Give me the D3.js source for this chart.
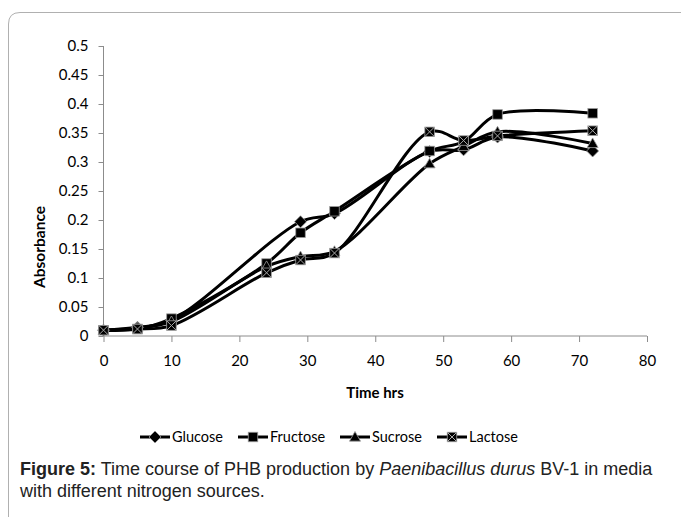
<!DOCTYPE html>
<html><head><meta charset="utf-8">
<script src="https://cdn.jsdelivr.net/npm/d3@7"></script>
<style>body{margin:0;background:#fff;} svg{display:block;}</style>
</head><body>
<svg id="c" width="681" height="517"></svg>
<script>
const times = [0, 5, 10, 24, 29, 34, 48, 53, 58, 72];
const glucose  = [0.010, 0.015, 0.027, null, 0.197, 0.211, 0.318, 0.321, 0.343, 0.319];
const fructose = [0.010, 0.012, 0.030, 0.125, 0.178, 0.215, 0.319, 0.335, 0.382, 0.384];
const sucrose  = [0.010, 0.014, 0.025, 0.120, 0.137, 0.146, 0.297, 0.327, 0.352, 0.332];
const lactose  = [0.010, 0.012, 0.018, 0.109, 0.131, 0.143, 0.352, 0.337, 0.345, 0.354];
const seriesNames = ["Glucose", "Fructose", "Sucrose", "Lactose"];
const seriesMarkers = ["diamond", "square", "triangle", "xsquare"];
const xTicks = [0, 10, 20, 30, 40, 50, 60, 70, 80];
const yTicks = [0, 0.05, 0.1, 0.15, 0.2, 0.25, 0.3, 0.35, 0.4, 0.45, 0.5];
const yTickLabels = ["0", "0.05", "0.1", "0.15", "0.2", "0.25", "0.3", "0.35", "0.4", "0.45", "0.5"];

const svg = d3.select("#c");
// outer frame
svg.append("path").attr("d", "M8.5,517 L8.5,24 Q8.5,12.5 20,12.5 L681,12.5")
  .attr("fill", "none").attr("stroke", "#b0b0b0").attr("stroke-width", 1);

const x = d3.scaleLinear().domain([0, 80]).range([103.5, 647]);
const y = d3.scaleLinear().domain([0, 0.5]).range([336, 46]);
const axisColor = "#8c8c8c";
const tickFont = "Lato, 'Open Sans', sans-serif";

// x axis
const gx = svg.append("g").attr("transform", "translate(0,336)")
  .call(d3.axisBottom(x).tickValues(xTicks).tickSize(6).tickPadding(13).tickFormat(d3.format("d")));
gx.select(".domain").attr("stroke", axisColor).attr("d", `M${x(0)},0H${x(80)}`);
gx.selectAll(".tick line").attr("stroke", axisColor);
gx.selectAll("text").attr("font-family", tickFont).attr("font-size", 15).attr("fill", "#000");

// y axis
const gy = svg.append("g").attr("transform", `translate(${x(0)},0)`)
  .call(d3.axisLeft(y).tickValues(yTicks).tickSize(5).tickPadding(10)
    .tickFormat((d, i) => yTickLabels[i]));
gy.select(".domain").attr("stroke", axisColor).attr("d", `M0,${y(0.5)}V${y(0)}`);
gy.selectAll(".tick line").attr("stroke", axisColor);
gy.selectAll("text").attr("font-family", tickFont).attr("font-size", 15).attr("fill", "#000");

// axis titles
svg.append("text").attr("x", 375).attr("y", 398).attr("text-anchor", "middle")
  .attr("font-family", tickFont).attr("font-weight", "bold").attr("font-size", 15).text("Time hrs");
svg.append("text").attr("transform", "translate(45,247) rotate(-90)").attr("text-anchor", "middle")
  .attr("font-family", tickFont).attr("font-weight", "bold").attr("font-size", 15.5).text("Absorbance");

const allSeries = [glucose, fructose, sucrose, lactose];

function drawMarker(g, type, cx, cy) {
  if (type === "diamond") {
    const r = 6;
    g.append("path").attr("d", `M${cx},${cy - r}L${cx + r},${cy}L${cx},${cy + r}L${cx - r},${cy}Z`)
      .attr("fill", "#000").attr("stroke", "#9a9a9a").attr("stroke-width", 0.8);
  } else if (type === "square") {
    const s = 9.5;
    g.append("rect").attr("x", cx - s / 2).attr("y", cy - s / 2).attr("width", s).attr("height", s)
      .attr("fill", "#000").attr("stroke", "#9a9a9a").attr("stroke-width", 0.8);
  } else if (type === "triangle") {
    const r = 5.5;
    g.append("path").attr("d", `M${cx},${cy - r}L${cx + r},${cy + r * 0.75}L${cx - r},${cy + r * 0.75}Z`)
      .attr("fill", "#000").attr("stroke", "#9a9a9a").attr("stroke-width", 0.8);
  } else {
    const s = 9.5;
    g.append("rect").attr("x", cx - s / 2).attr("y", cy - s / 2).attr("width", s).attr("height", s)
      .attr("fill", "#000").attr("stroke", "#9a9a9a").attr("stroke-width", 0.8);
    g.append("path").attr("d", `M${cx - s / 2},${cy - s / 2}L${cx + s / 2},${cy + s / 2}M${cx + s / 2},${cy - s / 2}L${cx - s / 2},${cy + s / 2}`)
      .attr("stroke", "#a8a8a8").attr("stroke-width", 1);
  }
}

const line = d3.line().defined(d => d[1] != null)
  .x(d => x(d[0])).y(d => y(d[1])).curve(d3.curveCatmullRom.alpha(0.5));

allSeries.forEach((vals, si) => {
  const pts = times.map((t, i) => [t, vals[i]]).filter(d => d[1] != null);
  svg.append("path").datum(pts).attr("d", line)
    .attr("fill", "none").attr("stroke", "#000").attr("stroke-width", 3).attr("stroke-linejoin", "round");
});
allSeries.forEach((vals, si) => {
  const g = svg.append("g");
  times.forEach((t, i) => { if (vals[i] != null) drawMarker(g, seriesMarkers[si], x(t), y(vals[i])); });
});

// legend
const legendX = [140, 238, 340, 437];
const lg = svg.append("g");
seriesNames.forEach((name, i) => {
  const lx = legendX[i], ly = 437;
  lg.append("line").attr("x1", lx).attr("x2", lx + 30).attr("y1", ly).attr("y2", ly)
    .attr("stroke", "#000").attr("stroke-width", 3);
  drawMarker(lg, seriesMarkers[i], lx + 15, ly);
  lg.append("text").attr("x", lx + 32).attr("y", ly + 5).attr("font-family", tickFont)
    .attr("font-size", 14.5).text(name);
});

// caption
const capFont = "'Liberation Sans', Arial, sans-serif";
const cap = svg.append("text").attr("x", 20).attr("y", 475).attr("font-family", capFont)
  .attr("font-size", 18).attr("fill", "#222");
cap.append("tspan").attr("font-weight", "bold").text("Figure 5:");
cap.append("tspan").text(" Time course of PHB production by ");
cap.append("tspan").attr("font-style", "italic").text("Paenibacillus durus");
cap.append("tspan").text(" BV-1 in media");
svg.append("text").attr("x", 20).attr("y", 497).attr("font-family", capFont)
  .attr("font-size", 18).attr("fill", "#222").text("with different nitrogen sources.");
</script>
</body></html>
